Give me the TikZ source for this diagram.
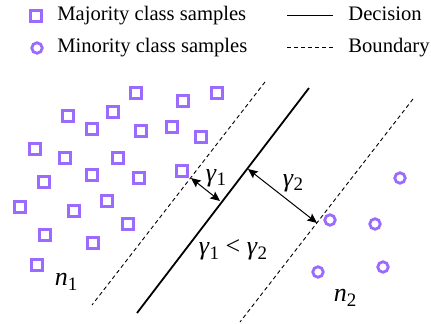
\documentclass[tikz,border=0pt]{standalone}
\usepackage{fontspec}
\setmainfont{Liberation Serif}
\usepackage{tikz}
\usetikzlibrary{arrows.meta,calc}
\definecolor{purc}{HTML}{9B6BFF}
\newcommand{\mvar}[2]{\textit{#1}\raisebox{-2.2pt}{\fontsize{9.5}{10}\selectfont #2}}
\tikzset{
  sq/.style={draw=purc,line width=1.4pt,minimum size=5.25pt,inner sep=0pt},
  cr/.style={circle,draw=purc,line width=1.4pt,minimum size=5.25pt,inner sep=0pt},
  dec/.style={line width=0.9pt},
  bnd/.style={line width=0.45pt,dash pattern=on 2pt off 1.5pt},
  ar/.style={{Stealth[length=1.7mm,width=1.5mm,inset=0.3mm]}-{Stealth[length=1.7mm,width=1.5mm,inset=0.3mm]},line width=0.5pt},
  lbl/.style={font=\fontsize{10.3}{12}\selectfont,inner sep=0pt},
  mlbl/.style={font=\fontsize{13}{15}\selectfont,inner sep=0pt}
}
\begin{document}
\begin{tikzpicture}[x=0.5pt,y=-0.5pt]
\useasboundingbox (0,0) rectangle (431,324);
% legend
\node[sq] (lsq) at (36,16) {};
\node[cr] (lcr) at (37,48) {};
\node[lbl,anchor=base west] (tmaj) at (57,21) {Majority class samples};
\node[lbl,anchor=base west] (tmin) at (57,53) {Minority class samples};
\coordinate (ld1) at (287,15.5);
\coordinate (ld2) at (333,15.5);
\coordinate (lb1) at (287,47);
\coordinate (lb2) at (333,47);
\draw[dec] (ld1) -- (ld2);
\draw[bnd] (lb1) -- (lb2);
\node[lbl,anchor=base west] (tdec) at (348,21) {Decision};
\node[lbl,anchor=base west] (tbnd) at (348,53) {Boundary};
% samples
\foreach \x/\y [count=\i] in {136/93,183/101,217/93,68/116,113/112,92/129,141/131,172/127,201/137,
  35/149,65/158,118/158,44/182,92/175,139/178,182/171,20/207,74/211,107/201,128/224,45/235,93/243,37/265}
  \node[sq] (s\i) at (\x,\y) {};
\foreach \x/\y [count=\i] in {400/178,330/220,375/224,318/272,383/267}
  \node[cr] (c\i) at (\x,\y) {};
% lines
\coordinate (bl1) at (265,82);
\coordinate (bl2) at (92,305);
\coordinate (dl1) at (309,88);
\coordinate (dl2) at (137,313);
\coordinate (br1) at (413,99);
\coordinate (br2) at (240,322);
\draw[bnd] (bl1) -- (bl2);
\draw[dec] (dl1) -- (dl2);
\draw[bnd] (br1) -- (br2);
% margins
\coordinate (g1a) at (191,178);
\coordinate (g1b) at (220,201);
\coordinate (g2a) at (248,169);
\coordinate (g2b) at (317,223);
\draw[ar] (g1a) -- (g1b);
\draw[ar] (g2a) -- (g2b);
\node[mlbl] (tg1) at (216,178) {\mvar{γ}{1}};
\node[mlbl] (tg2) at (293,183) {\mvar{γ}{2}};
\node[mlbl] (tcmp) at (233,250) {\mvar{γ}{1} < \mvar{γ}{2}};
\node[mlbl] (tn1) at (66,282) {\mvar{n}{1}};
\node[mlbl] (tn2) at (345,298) {\mvar{n}{2}};
\end{tikzpicture}
\end{document}
